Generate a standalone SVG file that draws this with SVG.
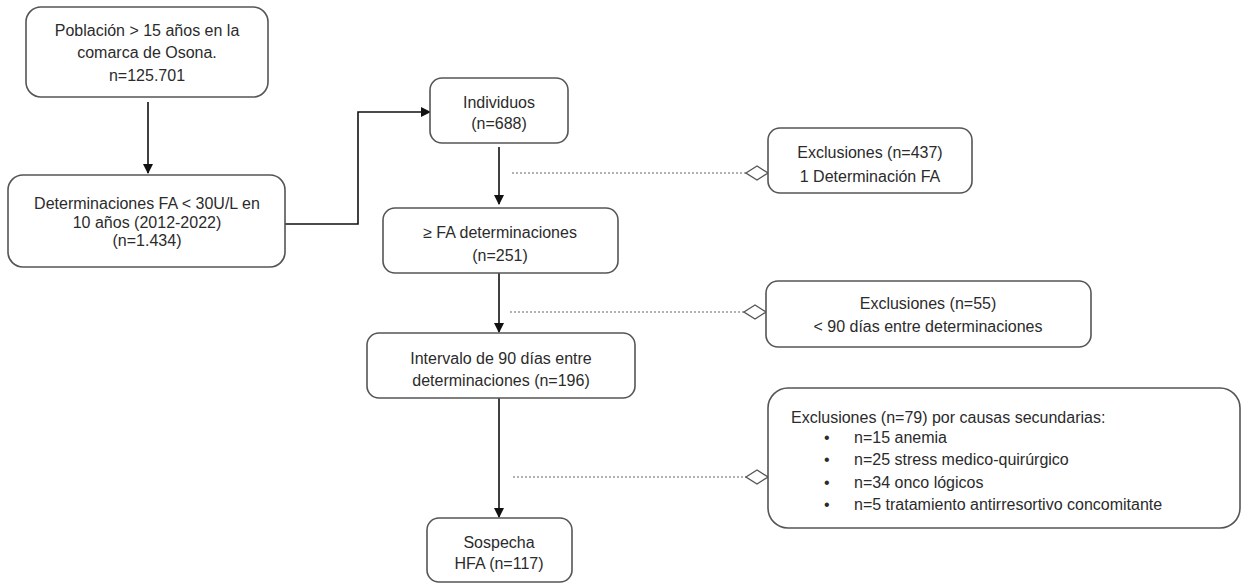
<svg xmlns="http://www.w3.org/2000/svg" width="1242" height="584" viewBox="0 0 1242 584">
<defs>
<marker id="arr" markerWidth="10" markerHeight="10" refX="9" refY="5" orient="auto" markerUnits="userSpaceOnUse">
<path d="M0,0 L10,5 L0,10 Z" fill="#111"/>
</marker>
<marker id="dia" markerWidth="24" markerHeight="16" refX="23" refY="8" orient="auto" markerUnits="userSpaceOnUse">
<path d="M1,8 L12,1 L23,8 L12,15 Z" fill="#fff" stroke="#555" stroke-width="1.3"/>
</marker>
</defs>
<style>
.box{fill:#fff;stroke:#555;stroke-width:1.6}
.t{font-family:"Liberation Sans",Arial,sans-serif;font-size:16px;fill:#2b2b2b;text-anchor:middle}
.tl{font-family:"Liberation Sans",Arial,sans-serif;font-size:16px;fill:#2b2b2b}
.c{fill:none;stroke:#111;stroke-width:1.6}
.d{fill:none;stroke:#666;stroke-width:1.2;stroke-dasharray:2,2}
</style>
<rect width="1242" height="584" fill="#fff"/>
<g id="connectors">
<line class="c" x1="148" y1="102" x2="148" y2="173" marker-end="url(#arr)"/>
<polyline class="c" points="285,224 358,224 358,112 430,112" marker-end="url(#arr)"/>
<line class="c" x1="499" y1="147" x2="499" y2="204" marker-end="url(#arr)"/>
<line class="c" x1="499" y1="273" x2="499" y2="332" marker-end="url(#arr)"/>
<line class="c" x1="499" y1="398" x2="499" y2="517" marker-end="url(#arr)"/>
<line class="d" x1="512" y1="173" x2="768" y2="173" marker-end="url(#dia)"/>
<line class="d" x1="510" y1="312" x2="766" y2="312" marker-end="url(#dia)"/>
<line class="d" x1="513" y1="477" x2="768" y2="477" marker-end="url(#dia)"/>
</g>
<g id="n1">
<rect class="box" x="26" y="7" width="242" height="90" rx="15"/>
<text class="t" x="147" y="36">Población &gt; 15 años en la</text>
<text class="t" x="147" y="58">comarca de Osona.</text>
<text class="t" x="147" y="81">n=125.701</text>
</g>
<g id="n2">
<rect class="box" x="8" y="175" width="277" height="92" rx="15"/>
<text class="t" x="147" y="209">Determinaciones FA &lt; 30U/L en</text>
<text class="t" x="147" y="228">10 años (2012-2022)</text>
<text class="t" x="147" y="246">(n=1.434)</text>
</g>
<g id="n3">
<rect class="box" x="430" y="78" width="138" height="65" rx="12"/>
<text class="t" x="499" y="108">Individuos</text>
<text class="t" x="499" y="129">(n=688)</text>
</g>
<g id="n4">
<rect class="box" x="383" y="208" width="235" height="65" rx="12"/>
<text class="t" x="500" y="238">≥ FA determinaciones</text>
<text class="t" x="500" y="261">(n=251)</text>
</g>
<g id="n5">
<rect class="box" x="367" y="333" width="268" height="65" rx="12"/>
<text class="t" x="501" y="364">Intervalo de 90 días entre</text>
<text class="t" x="501" y="386">determinaciones (n=196)</text>
</g>
<g id="n6">
<rect class="box" x="427" y="518" width="145" height="64" rx="12"/>
<text class="t" x="499" y="548">Sospecha</text>
<text class="t" x="499" y="569">HFA (n=117)</text>
</g>
<g id="e1">
<rect class="box" x="768" y="128" width="204" height="65" rx="12"/>
<text class="t" x="870" y="158">Exclusiones (n=437)</text>
<text class="t" x="870" y="182">1 Determinación FA</text>
</g>
<g id="e2">
<rect class="box" x="766" y="281" width="325" height="66" rx="12"/>
<text class="t" x="928" y="309">Exclusiones (n=55)</text>
<text class="t" x="928" y="332">&lt; 90 días entre determinaciones</text>
</g>
<g id="e3">
<rect class="box" x="768" y="388" width="472" height="140" rx="20"/>
<text class="tl" x="791" y="423">Exclusiones (n=79) por causas secundarias:</text>
<text class="tl" x="824" y="443">•</text>
<text class="tl" x="854" y="443">n=15 anemia</text>
<text class="tl" x="824" y="465">•</text>
<text class="tl" x="854" y="465">n=25 stress medico-quirúrgico</text>
<text class="tl" x="824" y="488">•</text>
<text class="tl" x="854" y="488">n=34 onco lógicos</text>
<text class="tl" x="824" y="510">•</text>
<text class="tl" x="854" y="510">n=5 tratamiento antirresortivo concomitante</text>
</g>
</svg>
